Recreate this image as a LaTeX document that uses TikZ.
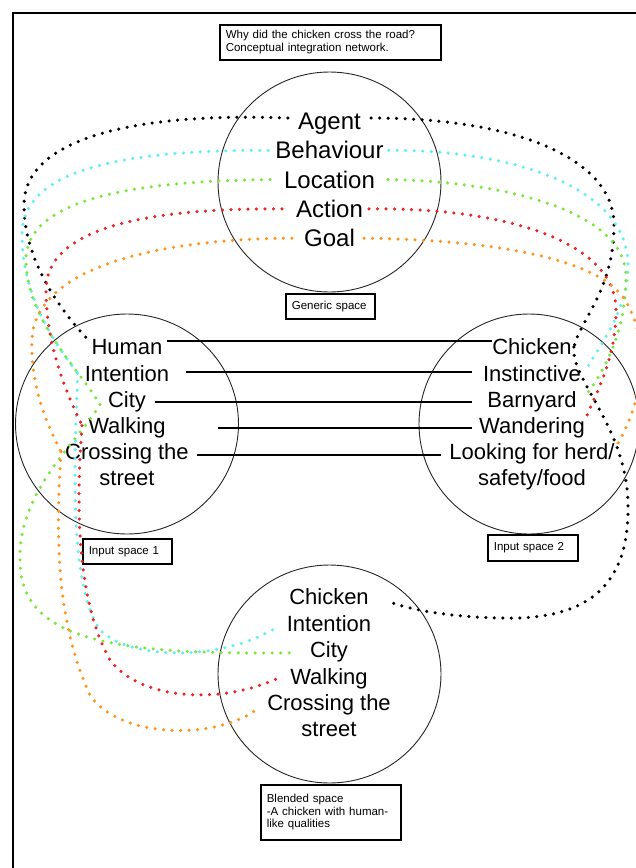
\documentclass[tikz,border=0pt]{standalone}
\usepackage{fontspec}
\setmainfont{Liberation Sans}
\usetikzlibrary{positioning}
\definecolor{dotcyan}{RGB}{96,240,240}
\definecolor{dotgreen}{RGB}{120,232,60}
\definecolor{dotred}{RGB}{238,34,34}
\definecolor{dotorange}{RGB}{255,148,30}
\tikzset{
 space/.style={draw=black!85,line width=0.9pt},
 gword/.style={inner sep=0pt,font=\fontsize{24}{24}\selectfont,text height=17.3pt,text depth=0pt},
 word/.style={inner sep=0pt,font=\fontsize{22}{22}\selectfont,text height=15.8pt,text depth=0pt},
 tag/.style={draw,line width=1.6pt,anchor=north west,align=left,inner xsep=6pt,inner ysep=0pt,font=\fontsize{11.5}{13.3}\selectfont},
 link/.style={line width=2pt},
 trail/.style={line width=3.5pt,line cap=round,dash pattern=on 0pt off 8.5pt}
}
\begin{document}
\begin{tikzpicture}[x=1pt,y=-1pt]
 \useasboundingbox (0,0) rectangle (636,868);
 \clip (0,0) rectangle (636,868);
 % frame
 \draw[line width=2pt] (13,868) -- (13,13) -- (636,13);

 % spaces
 \draw[space] (329.5,182) ellipse [x radius=111.5,y radius=110];
 \draw[space] (127,424) ellipse [x radius=111.5,y radius=110];
 \draw[space] (529,424) ellipse [x radius=110,y radius=110];
 \draw[space] (329.5,674) ellipse [x radius=111.5,y radius=109];

 % tags
 \node[tag,text width=209pt,minimum height=35pt] (title) at (219,24) {Why did the chicken cross the road?\\Conceptual integration network.};
 \node[tag,text width=77pt,minimum height=25pt] (tgen) at (285,293) {Generic space};
 \node[tag,text width=77pt,minimum height=25pt] (tin1) at (82,538) {Input space 1};
 \node[tag,text width=78pt,minimum height=26pt] (tin2) at (487,534) {Input space 2};
 \node[tag,text width=128pt,minimum height=55pt,font=\fontsize{11.5}{12.5}\selectfont] (tblend) at (260,784) {Blended space\\-A chicken with human-\\like qualities};

 % words
 \foreach \t [count=\i] in {Agent,Behaviour,Location,Action,Goal}
  \node[gword] (g\i) at (329.5,91.7+29.3*\i) {\t};
 \foreach \t [count=\i] in {Human,Intention,City,Walking,Crossing the,street}
  \node[word] (a\i) at (127,320.8+26.2*\i) {\t};
 \foreach \t [count=\i] in {Chicken,Instinctive,Barnyard,Wandering,Looking for herd/,safety/food}
  \node[word] (b\i) at (532,320.8+26.2*\i) {\t};
 \foreach \t [count=\i] in {Chicken,Intention,City,Walking,Crossing the,street}
  \node[word] (c\i) at (329,570.6+26.4*\i) {\t};

 % input 1 -- input 2
 \foreach \i/\sa/\sb/\r in {1/4/0/6,2/17/-11/1.5,3/9/-15/-2.8,4/52/-7/-2.5,5/8/-8/-3}
  \draw[link] ([xshift=\sa pt,yshift=\r pt]a\i.east) -- ([xshift=\sb pt,yshift=\r pt]b\i.west);

 % generic -- input 1 -- blend
 \draw[trail,black] ([xshift=-10pt,yshift=3pt]g1.west) .. controls (130,112) and (24,140) .. (24,205) .. controls (24,260) and (60,310) .. ([xshift=-4pt]a1.north west);
 \draw[trail,dotcyan] ([xshift=-7pt]g2.west) .. controls (120,150) and (22,170) .. (22,235) .. controls (22,300) and (60,350) .. ([xshift=-7pt]a2.west);
 \draw[trail,dotcyan] ([xshift=-7pt]a2.west) .. controls (76,440) and (66,580) .. (100,630) .. controls (130,660) and (220,662) .. ([xshift=-10pt,yshift=-4pt]c2.west);
 \draw[trail,dotgreen] ([xshift=-14pt]g3.west) .. controls (130,181) and (26,200) .. (26,260) .. controls (26,320) and (80,370) .. ([xshift=-8pt,yshift=-5pt]a3.west);
 \draw[trail,dotgreen] ([xshift=-8pt,yshift=-5pt]a3.west) .. controls (80,440) and (18,490) .. (20,560) .. controls (20,640) and (110,655) .. ([xshift=-16pt,yshift=-3pt]c3.west);
 \draw[trail,dotred] ([xshift=-14pt]g4.west) .. controls (140,208) and (46,230) .. (46,290) .. controls (46,350) and (70,400) .. ([xshift=-6pt]a4.west);
 \draw[trail,dotred] ([xshift=-6pt]a4.west) .. controls (76,500) and (76,600) .. (110,660) .. controls (140,700) and (220,705) .. ([xshift=-12pt,yshift=-2pt]c4.west);
 \draw[trail,dotorange] ([xshift=-12pt]g5.west) .. controls (150,239) and (34,270) .. (32,340) .. controls (30,390) and (50,430) .. ([xshift=-4pt]a5.west);
 \draw[trail,dotorange] ([xshift=-4pt]a5.west) .. controls (56,530) and (55,620) .. (90,695) .. controls (120,740) and (220,740) .. ([xshift=-8pt,yshift=-5pt]c5.west);

 % generic -- input 2 (-- blend)
 \draw[trail,black] ([xshift=10pt,yshift=3pt]g1.east) .. controls (520,118) and (614,160) .. (614,225) .. controls (614,290) and (580,320) .. ([xshift=2pt]b1.east);
 \draw[trail,black] ([xshift=2pt]b1.east) .. controls (570,380) and (630,430) .. (628,510) .. controls (628,600) and (570,620) .. (500,618) .. controls (450,617) and (410,610) .. ([xshift=18pt,yshift=-4pt]c1.east);
 \draw[trail,dotcyan] ([xshift=5pt]g2.east) .. controls (520,150) and (628,190) .. (628,265) .. controls (628,310) and (600,345) .. ([xshift=7pt,yshift=7pt]b2.east);
 \draw[trail,dotgreen] ([xshift=13pt]g3.east) .. controls (500,181) and (626,210) .. (626,277) .. controls (626,330) and (605,370) .. ([xshift=11pt,yshift=7pt]b3.east);
 \draw[trail,dotred] ([xshift=6pt]g4.east) .. controls (500,207) and (616,240) .. (616,310) .. controls (616,360) and (595,395) .. ([xshift=2pt,yshift=10pt]b4.east);
 \draw[trail,dotorange] ([xshift=9pt]g5.east) .. controls (500,240) and (600,260) .. (625,300) .. controls (650,340) and (645,400) .. ([yshift=3pt]b5.east);
\end{tikzpicture}
\end{document}
